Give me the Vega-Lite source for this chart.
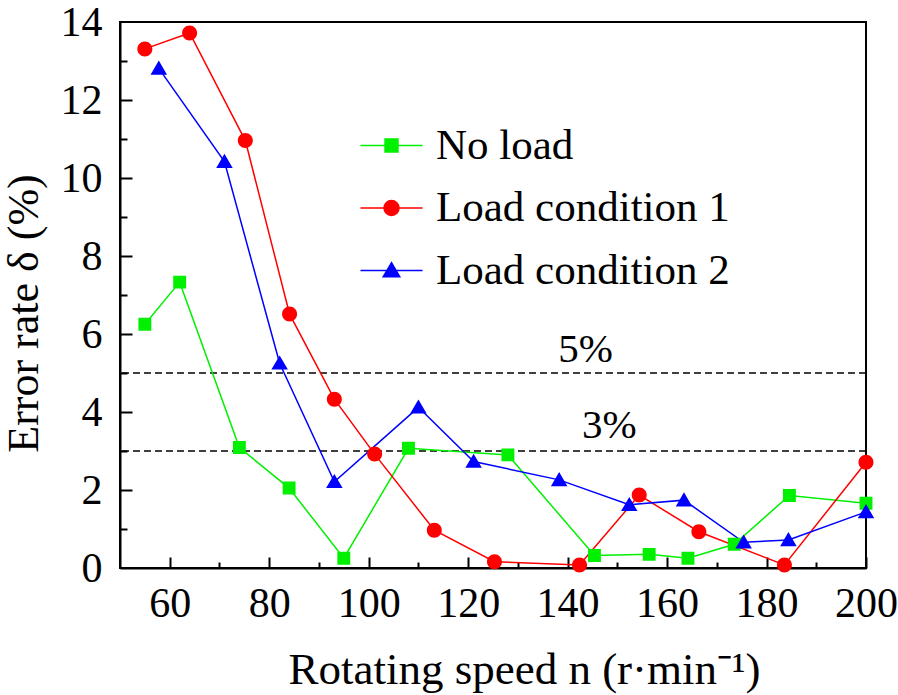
{
  "$schema": "https://vega.github.io/schema/vega-lite/v6.json",
  "width": 746,
  "height": 546,
  "autosize": "none",
  "padding": {"left": 120, "top": 22, "right": 32, "bottom": 127},
  "background": "white",
  "resolve": {"axis": {"x": "independent", "y": "independent"}},
  "config": {
    "view": {"stroke": "black", "strokeWidth": 2},
    "font": "Liberation Serif, Times New Roman, serif",
    "axis": {
      "grid": false,
      "domainColor": "black",
      "domainWidth": 2,
      "tickColor": "black",
      "tickWidth": 2,
      "labelFont": "Liberation Serif, Times New Roman, serif",
      "labelFontSize": 42,
      "labelColor": "black",
      "titleFont": "Liberation Serif, Times New Roman, serif",
      "titleFontSize": 44,
      "titleFontWeight": "normal",
      "titleColor": "black",
      "labelOverlap": false,
      "labelFlush": false,
      "zindex": 1
    }
  },
  "datasets": {
    "series": [
      {"s": "No load", "n": 55, "e": 6.25},
      {"s": "No load", "n": 62, "e": 7.33},
      {"s": "No load", "n": 74, "e": 3.09},
      {"s": "No load", "n": 84, "e": 2.05},
      {"s": "No load", "n": 95, "e": 0.25},
      {"s": "No load", "n": 108, "e": 3.07},
      {"s": "No load", "n": 128, "e": 2.9},
      {"s": "No load", "n": 145.4, "e": 0.32},
      {"s": "No load", "n": 156.4, "e": 0.35},
      {"s": "No load", "n": 164.2, "e": 0.25},
      {"s": "No load", "n": 173.5, "e": 0.61},
      {"s": "No load", "n": 184.6, "e": 1.86},
      {"s": "No load", "n": 200, "e": 1.66},
      {"s": "Load condition 1", "n": 55, "e": 13.31},
      {"s": "Load condition 1", "n": 64, "e": 13.72},
      {"s": "Load condition 1", "n": 75.2, "e": 10.96},
      {"s": "Load condition 1", "n": 84.1, "e": 6.51},
      {"s": "Load condition 1", "n": 93.1, "e": 4.33},
      {"s": "Load condition 1", "n": 101.2, "e": 2.92},
      {"s": "Load condition 1", "n": 113.2, "e": 0.97},
      {"s": "Load condition 1", "n": 125.3, "e": 0.16},
      {"s": "Load condition 1", "n": 142.4, "e": 0.08},
      {"s": "Load condition 1", "n": 154.4, "e": 1.87},
      {"s": "Load condition 1", "n": 166.4, "e": 0.93},
      {"s": "Load condition 1", "n": 183.6, "e": 0.08},
      {"s": "Load condition 1", "n": 200, "e": 2.71},
      {"s": "Load condition 2", "n": 57.8, "e": 12.81},
      {"s": "Load condition 2", "n": 71, "e": 10.42},
      {"s": "Load condition 2", "n": 82.1, "e": 5.25},
      {"s": "Load condition 2", "n": 93.1, "e": 2.21},
      {"s": "Load condition 2", "n": 110, "e": 4.12},
      {"s": "Load condition 2", "n": 121.1, "e": 2.73},
      {"s": "Load condition 2", "n": 138.3, "e": 2.26},
      {"s": "Load condition 2", "n": 152.4, "e": 1.62},
      {"s": "Load condition 2", "n": 163.4, "e": 1.74},
      {"s": "Load condition 2", "n": 175.4, "e": 0.66},
      {"s": "Load condition 2", "n": 184.4, "e": 0.72},
      {"s": "Load condition 2", "n": 200, "e": 1.44}
    ]
  },
  "layer": [
    {
      "data": {"values": [{"e": 5}, {"e": 3}]},
      "mark": {"type": "rule", "color": "black", "strokeWidth": 1.5, "strokeDash": [7, 4]},
      "encoding": {
        "y": {"field": "e", "type": "quantitative", "scale": {"domain": [0, 14], "nice": false}, "axis": null}
      }
    },
    {
      "data": {"name": "series"},
      "transform": [{"filter": "false"}],
      "mark": {"type": "point", "filled": true, "opacity": 1, "strokeWidth": 1.5, "size": 900},
      "encoding": {
        "x": {"field": "n", "type": "quantitative", "axis": null},
        "y": {"field": "e", "type": "quantitative", "axis": null},
        "color": {
          "field": "s", "type": "nominal",
          "scale": {"domain": ["No load", "Load condition 1", "Load condition 2"], "range": ["#00f000", "#ff0000", "#0000ff"]},
          "legend": {
            "title": null,
            "orient": "none",
            "legendX": 250,
            "legendY": 102,
            "padding": 0,
            "labelFont": "Liberation Serif, Times New Roman, serif",
            "labelFontSize": 43,
            "labelColor": "black",
            "labelLimit": 600,
            "labelOffset": 23,
            "symbolSize": 900,
            "symbolStrokeWidth": 1.5,
            "symbolOpacity": 1,
            "rowPadding": 18.5
          }
        },
        "stroke": {
          "field": "s", "type": "nominal",
          "scale": {"domain": ["No load", "Load condition 1", "Load condition 2"], "range": ["#00f000", "#ff0000", "#0000ff"]}
        },
        "shape": {
          "field": "s", "type": "nominal",
          "scale": {
            "domain": ["No load", "Load condition 1", "Load condition 2"],
            "range": [
              "M-2.07,0H2.07M-0.43,-0.43H0.43V0.43H-0.43Z",
              "M-2.07,0H2.07M0.5,0A0.5,0.5,0,1,1,-0.5,0A0.5,0.5,0,1,1,0.5,0Z",
              "M-2.07,0H2.07M0,-0.52L0.55,0.42L-0.55,0.42Z"
            ]
          }
        }
      }
    },
    {
      "data": {"name": "series"},
      "mark": {"type": "line", "strokeWidth": 1.5},
      "encoding": {
        "x": {
          "field": "n", "type": "quantitative",
          "scale": {"domain": [50, 200], "nice": false, "zero": false},
          "axis": {
            "orient": "bottom",
            "title": "Rotating speed n (r·min⁻¹)",
            "values": [60, 80, 100, 120, 140, 160, 180, 200],
            "tickSize": 0,
            "labelPadding": 15,
            "titleFontSize": 45,
            "titleX": 404,
            "titleY": 115,
            "titleBaseline": "alphabetic",
            "titleAlign": "center"
          }
        },
        "y": {
          "field": "e", "type": "quantitative",
          "scale": {"domain": [0, 14], "nice": false},
          "axis": {
            "orient": "left",
            "title": "Error rate δ (%)",
            "values": [0, 2, 4, 6, 8, 10, 12, 14],
            "tickSize": 0,
            "labelPadding": 18,
            "titleX": -83,
            "titleY": 291,
            "titleBaseline": "alphabetic",
            "titleAlign": "center"
          }
        },
        "color": {"field": "s", "type": "nominal"}
      }
    },
    {
      "data": {"name": "series"},
      "mark": {"type": "point", "filled": true, "opacity": 1, "strokeWidth": 0, "size": 900},
      "encoding": {
        "x": {
          "field": "n", "type": "quantitative",
          "axis": {"orient": "bottom", "values": [60, 80, 100, 120, 140, 160, 180, 200], "tickSize": 11, "offset": -11, "labels": false, "domain": false, "title": null}
        },
        "y": {
          "field": "e", "type": "quantitative",
          "axis": {"orient": "left", "values": [2, 4, 6, 8, 10, 12], "tickSize": 12, "offset": -12, "labels": false, "domain": false, "title": null}
        },
        "color": {"field": "s", "type": "nominal"},
        "shape": {"field": "s", "type": "nominal"}
      }
    },
    {
      "data": {"values": [{"t": "5%", "n": 143.6, "e": 5.29}, {"t": "3%", "n": 148.4, "e": 3.33}]},
      "mark": {"type": "text", "font": "Liberation Serif, Times New Roman, serif", "fontSize": 41, "baseline": "alphabetic", "align": "center", "color": "black"},
      "encoding": {
        "x": {
          "field": "n", "type": "quantitative",
          "axis": {"orient": "bottom", "values": [70, 90, 110, 130, 150, 170, 190], "tickSize": 6, "offset": -6, "labels": false, "domain": false, "title": null}
        },
        "y": {
          "field": "e", "type": "quantitative",
          "axis": {"orient": "left", "values": [1, 3, 5, 7, 9, 11, 13], "tickSize": 7, "offset": -7, "labels": false, "domain": false, "title": null}
        },
        "text": {"field": "t"}
      }
    }
  ]
}
